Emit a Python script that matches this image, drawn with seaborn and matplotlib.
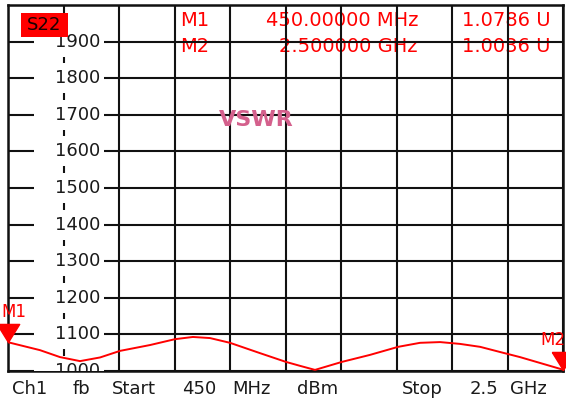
import numpy as np
import pandas as pd
import matplotlib
matplotlib.use("Agg")
import matplotlib.pyplot as plt
from matplotlib.patches import Rectangle
import seaborn as sns

# ---------------- data ----------------
freq_mhz = [450, 568, 642, 716, 790, 864, 975, 1067, 1133, 1196, 1270, 1380, 1476,
            1529, 1584, 1684, 1787, 1891, 1972, 2046, 2120, 2194, 2267, 2341, 2415, 2500]
vswr_mu = [1078.6, 1057, 1038, 1027, 1037, 1055, 1071, 1087, 1093, 1090, 1077, 1049, 1025,
           1014, 1003, 1025, 1044, 1066, 1077, 1079, 1074, 1066, 1052, 1038, 1022, 1003.6]

marker_names = ["M1", "M2"]
marker_freq = [450, 2500]
marker_val = [1078.6, 1003.6]
marker_freq_text = ["450.00000 MHz", "2.500000 GHz"]
marker_val_text = ["1.0786 U", "1.0036 U"]

ytick_values = [1000, 1100, 1200, 1300, 1400, 1500, 1600, 1700, 1800, 1900]
ytick_labels = ["1000", "1100", "1200", "1300", "1400", "1500", "1600", "1700", "1800", "1900"]

footer_words = ["Ch1", "fb", "Start", "450", "MHz", "dBm", "Stop", "2.5", "GHz"]
trace_name = "S22"
format_name = "VSWR"

# ---------------- style ----------------
sns.set_theme(style="white")
plt.rcParams["font.family"] = ["DejaVu Sans"]

W, H = 566, 401
fig = plt.figure(figsize=(W / 100, H / 100), dpi=100)
fig.patch.set_facecolor("white")

def fx(x):
    return x / W

def fy(y):
    return 1 - y / H

ax = fig.add_axes([fx(8), fy(371), 555 / W, 366 / H])
ax.set_facecolor("white")
ax.set_xlim(450, 2500)
ax.set_ylim(1000, 2000)
ax.set_xticks(np.linspace(450, 2500, 11))
ax.set_yticks(np.arange(1000, 2001, 100))
ax.tick_params(length=0, labelleft=False, labelbottom=False)
ax.grid(True, color="#111111", lw=1.5)
ax.set_axisbelow(False)
for s in ax.spines.values():
    s.set_color("#111111")
    s.set_linewidth(1.8)

df = pd.DataFrame({"freq": freq_mhz, "vswr": vswr_mu})
sns.lineplot(data=df, x="freq", y="vswr", ax=ax, color="#ff0000", lw=1.4,
             zorder=3.5, estimator=None, sort=False)
ax.set_xlabel("")
ax.set_ylabel("")

# y labels drawn inside the grid with white boxes
ytr = ax.get_yaxis_transform()
for v, lab in zip(ytick_values, ytick_labels):
    ax.add_patch(Rectangle(((34 - 8) / 555, v - 41), 70 / 555, 82, transform=ytr,
                           fc="white", ec="none", zorder=2.7, clip_on=True))
    ax.text((100 - 8) / 555, v, lab, transform=ytr, ha="right", va="center",
            fontsize=13, color="#1a1a1a", zorder=2.8, clip_on=True)

# trace name box
fig.patches.append(Rectangle((fx(21), fy(37)), 47 / W, 24 / H, transform=fig.transFigure,
                             fc="#ff0000", ec="none", zorder=3))
fig.text(fx(44.5), fy(25.5), trace_name, ha="center", va="center", fontsize=13,
         color="#1a0000", zorder=4)

# format name
ax.text(fx(256), fy(120), format_name, transform=fig.transFigure, ha="center", va="center",
        fontsize=16, fontweight="bold", color="#d4608c", zorder=3)

# marker readout (under the grid)
row_y = [20, 46]
for i in range(len(marker_names)):
    y = fy(row_y[i])
    ax.text(fx(180), y, marker_names[i], transform=fig.transFigure, ha="left", va="center",
            fontsize=14, color="#ff0000", zorder=2)
    ax.text(fx(418), y, marker_freq_text[i], transform=fig.transFigure, ha="right",
            va="center", fontsize=14, color="#ff0000", zorder=2)
    ax.text(fx(551), y, marker_val_text[i], transform=fig.transFigure, ha="right",
            va="center", fontsize=14, color="#ff0000", zorder=2)

# markers: downward triangles with tip at the point
tri = [(-0.62, 1.0), (0.62, 1.0), (0.0, 0.0), (-0.62, 1.0)]
label_ha = ["left", "right"]
label_dx = [-5.0, 2.0]
for name, f, v, ha, dx in zip(marker_names, marker_freq, marker_val, label_ha, label_dx):
    ax.plot([f], [v], marker=tri, ms=26, color="#ff0000", mec="#ff0000",
            linestyle="none", zorder=4, clip_on=False)
    ax.annotate(name, xy=(f, v), xytext=(dx, 21.6), textcoords="offset points",
                ha=ha, va="center", fontsize=12, color="#ff0000",
                annotation_clip=False, zorder=4)

# footer
footer_x = [12, 73, 112, 182, 232, 297, 402, 470, 510]
for wd, x in zip(footer_words, footer_x):
    fig.text(fx(x), fy(388.5), wd, ha="left", va="center", fontsize=13, color="#1a1a1a")

fig.savefig("out.png", dpi=100)
